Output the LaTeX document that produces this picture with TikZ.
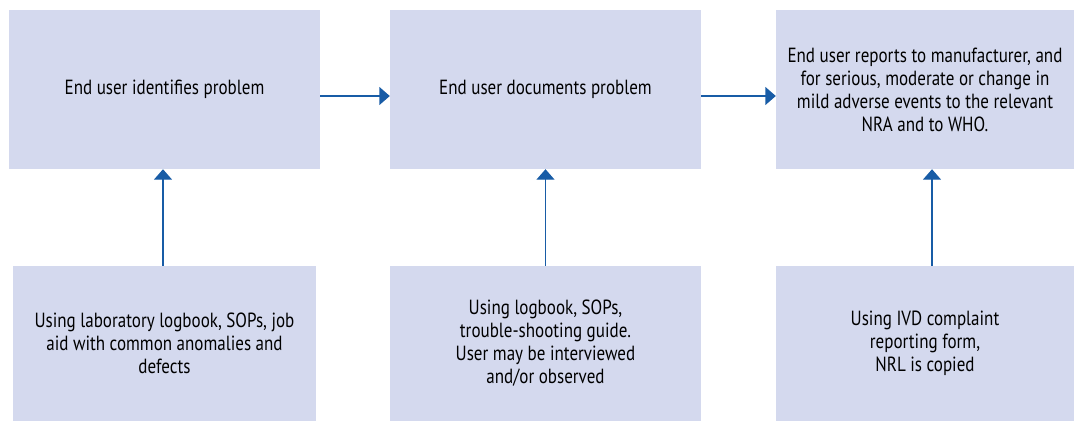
\documentclass[tikz,border=0pt]{standalone}
\usepackage{fontspec}
\setmainfont{PT Sans}[FakeStretch=0.83]
\usetikzlibrary{arrows.meta}
\definecolor{boxfill}{RGB}{212,217,238}
\definecolor{arrowblue}{RGB}{24,92,166}

\begin{document}
\begin{tikzpicture}[
    x=1pt, y=-1pt,
    stage/.style={rectangle, fill=boxfill, inner sep=4pt,
        minimum height=159pt, align=center,
        font=\fontsize{20.5}{23}\selectfont},
    source/.style={stage, minimum height=155pt},
    link/.style={draw=arrowblue, line width=1.4pt,
        -{Triangle[length=10.5pt, width=18pt]}}
]
    \useasboundingbox (0,0) rectangle (1074,421);
    \node[stage, minimum width=311pt] (identify) at (164.5,89.5)
        {End user identifies problem};
    \node[stage, minimum width=311pt] (document) at (545.5,89.5)
        {End user documents problem};
    \node[stage, minimum width=298pt] (report) at (925,89.5)
        {End user reports to manufacturer, and\\
         for serious, moderate or change in\\
         mild adverse events to the relevant\\
         NRA and to WHO.};
    \node[source, minimum width=303pt] (logbook) at (164.5,343.5)
        {Using laboratory logbook, SOPs, job\\
         aid with common anomalies and\\
         defects};
    \node[source, minimum width=311pt] (guide) at (545.5,343.5)
        {Using logbook, SOPs,\\
         trouble-shooting guide.\\
         User may be interviewed\\
         and/or observed};
    \node[source, minimum width=298pt] (form) at (925,343.5)
        {Using IVD complaint\\
         reporting form,\\
         NRL is copied};
    \draw[link] ([yshift=-6.5pt]identify.east) -- ([yshift=-6.5pt]document.west);
    \draw[link] ([yshift=-6.5pt]document.east) -- ([yshift=-6.5pt]report.west);
    \draw[link] ([xshift=-1.5pt]logbook.north) -- ([xshift=-1.5pt]identify.south);
    \draw[link] (guide.north) -- (document.south);
    \draw[link] ([xshift=7pt]form.north) -- ([xshift=7pt]report.south);
\end{tikzpicture}
\end{document}
